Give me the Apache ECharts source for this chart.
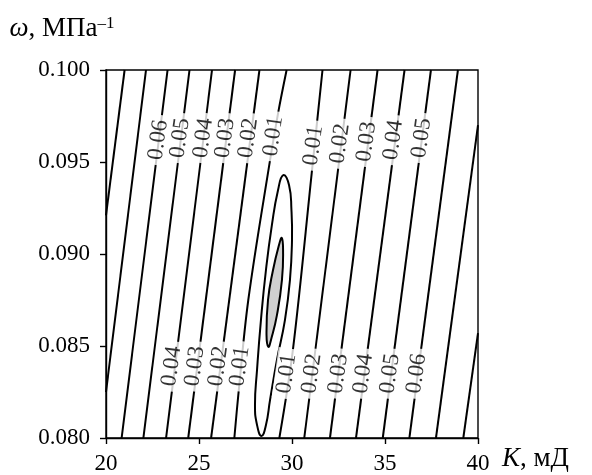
<!DOCTYPE html>
<html><head><meta charset="utf-8">
<script src="https://cdn.jsdelivr.net/npm/echarts/dist/echarts.min.js"></script>
<style>html,body{margin:0;padding:0;background:#fff}#c{width:592px;height:475px}</style>
</head><body><div id="c"></div>
<script>
// axis ranges
const xMin = 20, xMax = 40, xStep = 5;
const yMin = 0.080, yMax = 0.100, yStep = 0.005;

// contour lines: [K (мД), ω (МПа^-1)]
const lvl008L = [[21.00,0.1000],[20.00,0.0921]];
const lvl007L = [[22.15,0.1000],[20.00,0.0825]];
const lvl006L = [[23.31,0.1000],[20.84,0.0800]];
const lvl005L = [[24.49,0.1000],[22.01,0.0800]];
const lvl004L = [[25.70,0.1000],[23.23,0.0800]];
const lvl003L = [[26.94,0.1000],[24.42,0.0800]];
const lvl002L = [[28.25,0.1000],[25.65,0.0800]];
const lvl001L = [[29.71,0.1000],[29.26,0.0977],[28.82,0.0951],[27.65,0.0875],[27.11,0.0823],[26.90,0.0800]];
const lvl001R = [[31.64,0.1000],[31.06,0.0944],[30.05,0.0848],[29.32,0.0800]];
const lvl002R = [[33.15,0.1000],[30.66,0.0800]];
const lvl003R = [[34.60,0.1000],[32.04,0.0800]];
const lvl004R = [[36.05,0.1000],[33.44,0.0800]];
const lvl005R = [[37.47,0.1000],[34.88,0.0800]];
const lvl006R = [[38.92,0.1000],[36.31,0.0800]];
const lvl007R = [[40.00,0.0970],[37.74,0.0800]];
const lvl008R = [[40.00,0.0857],[39.21,0.0800]];

// closed contours around the minimum
const loopOuter = [[29.53,0.09429],[29.84,0.09375],[29.97,0.09239],[30.00,0.09076],[29.89,0.08859],[29.62,0.08641],[29.19,0.08424],[28.82,0.08207],[28.60,0.08071],[28.36,0.08011],[28.12,0.08071],[28.01,0.08179],[28.12,0.08370],[28.33,0.08641],[28.60,0.08913],[28.92,0.09158],[29.25,0.09348]];
const loopInner = [[29.45,0.09087],[29.52,0.09022],[29.46,0.08859],[29.19,0.08668],[28.87,0.08533],[28.73,0.08495],[28.63,0.08560],[28.71,0.08750],[28.98,0.08913],[29.30,0.09049]];

// contour labels: [K, ω, text]
const labelsTopLeft = [[22.81,0.0962,'0.06'],[23.98,0.0963,'0.05'],[25.23,0.0963,'0.04'],[26.40,0.0963,'0.03'],[27.65,0.0963,'0.02'],[28.99,0.0964,'0.01']];
const labelsTopRight = [[31.15,0.0959,'0.01'],[32.58,0.0960,'0.02'],[34.01,0.0961,'0.03'],[35.45,0.0962,'0.04'],[36.97,0.0963,'0.05']];
const labelsBottomLeft = [[23.53,0.0839,'0.04'],[24.78,0.0839,'0.03'],[26.04,0.0839,'0.02'],[27.20,0.0839,'0.01']];
const labelsBottomRight = [[29.71,0.0835,'0.01'],[31.06,0.0835,'0.02'],[32.49,0.0835,'0.03'],[33.83,0.0835,'0.04'],[35.27,0.0835,'0.05'],[36.70,0.0835,'0.06']];

const FONT = 'Liberation Serif, Times New Roman, serif';
const contours = [lvl008L,lvl007L,lvl006L,lvl005L,lvl004L,lvl003L,lvl002L,lvl001L,
                  lvl001R,lvl002R,lvl003R,lvl004R,lvl005R,lvl006R,lvl007R,lvl008R];

const series = contours.map(pts => ({
  type: 'line', data: pts, showSymbol: false, symbol: 'none', silent: true,
  smooth: pts.length > 2 ? 0.35 : false,
  lineStyle: { color: '#000', width: 2 }, z: 2
}));

function loopSeries(pts, fill) {
  return {
    type: 'custom', silent: true, z: 3, data: [0],
    renderItem: (params, api) => ({
      type: 'polygon',
      shape: { points: pts.map(p => api.coord(p)), smooth: 0.5 },
      style: { fill: fill, stroke: '#000', lineWidth: 2 }
    })
  };
}
series.push(loopSeries(loopOuter, 'none'));
series.push(loopSeries(loopInner, '#d0d0d0'));

const allLabels = [].concat(labelsTopLeft, labelsTopRight, labelsBottomLeft, labelsBottomRight);
series.push({
  type: 'scatter', silent: true, z: 5, symbolSize: 0,
  data: allLabels.map(l => ({ value: [l[0], l[1]], name: l[2] })),
  label: {
    show: true, position: 'inside', formatter: p => p.name, rotate: 82,
    fontFamily: FONT, fontSize: 23, fontStyle: 'normal', color: '#000',
    backgroundColor: '#fff', padding: [0, 5]
  }
});

const chart = echarts.init(document.getElementById('c'), null, { renderer: 'canvas' });
chart.setOption({
  animation: false,
  backgroundColor: '#fff',
  grid: { left: 106, right: 114, top: 70, bottom: 37, show: true, borderColor: '#000', borderWidth: 1.4, backgroundColor: 'transparent' },
  xAxis: {
    type: 'value', min: xMin, max: xMax, interval: xStep,
    name: '{i|K}, мД', nameLocation: 'end', nameGap: 24,
    nameTextStyle: { fontFamily: FONT, fontSize: 27, color: '#000', align: 'left', verticalAlign: 'top', padding: [7, 0, 0, 0],
      rich: { i: { fontFamily: FONT, fontSize: 27, fontStyle: 'italic', color: '#000' } } },
    axisLine: { lineStyle: { color: '#000', width: 1.4 } },
    axisTick: { inside: false, length: 6, lineStyle: { color: '#000', width: 1.4 } },
    axisLabel: { fontFamily: FONT, fontSize: 23, color: '#000', margin: 14 },
    splitLine: { show: false }
  },
  yAxis: {
    type: 'value', min: yMin, max: yMax, interval: yStep,
    name: '{i|ω}, МПа{s|–1}', nameLocation: 'end', nameGap: 28,
    nameTextStyle: { fontFamily: FONT, fontSize: 27, color: '#000', align: 'center', padding: [0, 88, 0, 0],
      rich: { i: { fontFamily: FONT, fontSize: 27, fontStyle: 'italic', color: '#000' },
              s: { fontFamily: FONT, fontSize: 17, color: '#000', verticalAlign: 'top', padding: [0, 0, 9, 0] } } },
    axisLine: { lineStyle: { color: '#000', width: 1.4 } },
    axisTick: { inside: false, length: 6, lineStyle: { color: '#000', width: 1.4 } },
    axisLabel: { fontFamily: FONT, fontSize: 23, color: '#000', margin: 16, formatter: v => v.toFixed(3) },
    splitLine: { show: false }
  },
  series: series
});
</script></body></html>
